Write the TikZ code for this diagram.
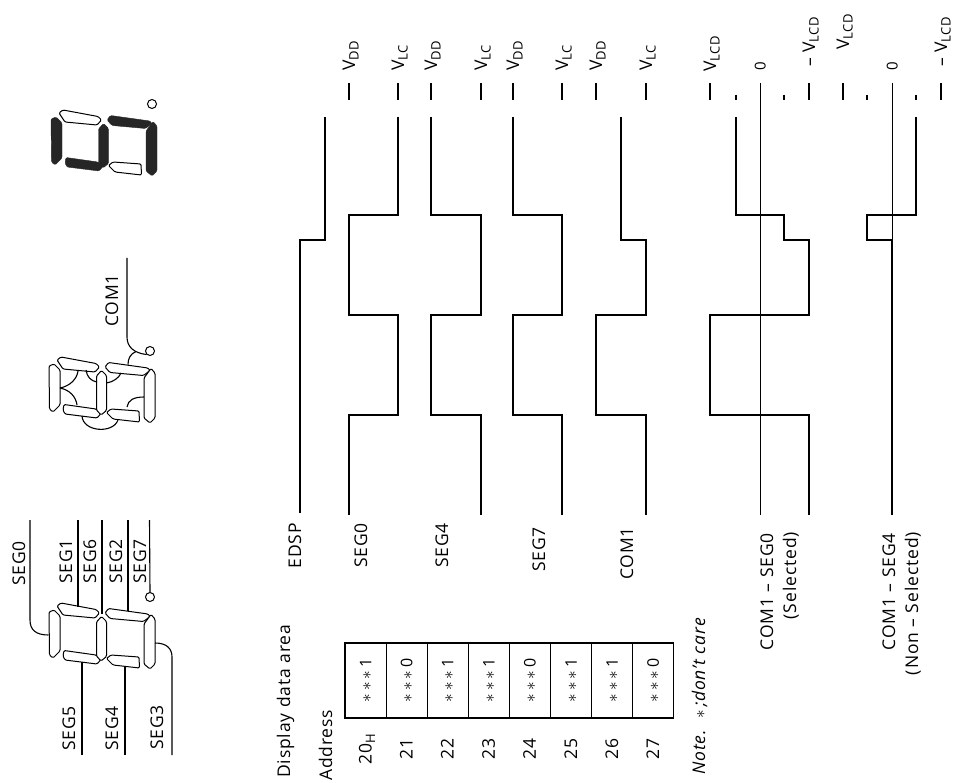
\documentclass[tikz,border=0pt]{standalone}
\usepackage{fontspec}
\setmainfont{Open Sans}[LetterSpace=5]
\newcommand{\lblfont}{\fontsize{17.5}{21}\selectfont}
\newcommand{\starfont}{\fontsize{16}{19}\selectfont}
\newcommand{\zerofont}{\fontsize{15}{17}\selectfont}
\newcommand{\lowsub}[1]{\raisebox{-3.5pt}{\fontsize{13}{15}\selectfont #1}}

% one rotated 8-segment digit (SEG0..SEG6 styles, name of the dot)
\newcommand{\segdigit}[8]{%
  \draw[#1] (49,612) -- (54,610) -- (60,616) -- (60,651) -- (53,658) -- (49.5,655) -- cycle;
  \draw[#2] (57,606) -- (61,603) -- (96,609.5) -- (99.5,613) -- (95,618) -- (63,615) -- cycle;
  \draw[#3] (105,613) -- (108.5,608.5) -- (148,614) -- (150,616.5) -- (143.5,621.5) -- (110,618.5) -- cycle;
  \draw[#4] (151,614.5) -- (155,619) -- (155,664) -- (150,669) -- (144,664) -- (144,624) -- cycle;
  \draw[#5] (106.5,658.5) -- (111,655) -- (139,657) -- (139.5,668) -- (113,665) -- cycle;
  \draw[#6] (64,650.5) -- (96,655) -- (101,659.5) -- (97,664) -- (65,660) -- (63,656) -- cycle;
  \draw[#7] (101.5,616.5) -- (106.5,621.5) -- (106.5,656.5) -- (101,661) -- (96.5,656) -- (96.5,622) -- cycle;
  \node[dp] (#8) at (150,597) {};
}

\begin{document}
\begin{tikzpicture}[x=1pt,y=-1pt,
  wave/.style={line width=2.4pt},
  tick/.style={line width=1.4pt},
  axis/.style={line width=0.8pt},
  wire/.style={line width=1.1pt},
  seg/.style={draw,line width=1pt,rounded corners=1.2pt,fill=white},
  segon/.style={draw=black!85,fill=black!85,rounded corners=1.2pt},
  dp/.style={circle,draw,line width=1pt,minimum size=9pt,inner sep=0pt},
  lbl/.style={font=\lblfont,rotate=90,inner sep=0pt},
  cell/.style={draw,line width=1.1pt,rotate=90,minimum width=75pt,minimum height=41.1pt,inner sep=0pt,font=\starfont}]
\useasboundingbox (0,0) rectangle (963,783);

% digits
\begin{scope}[shift={(2,-493)}]
  \segdigit{segon}{seg}{segon}{segon}{seg}{segon}{segon}{dpsel}
\end{scope}
\begin{scope}[shift={(0,-246)}]
  \segdigit{seg}{seg}{seg}{seg}{seg}{seg}{seg}{dpcom}
\end{scope}
\segdigit{seg}{seg}{seg}{seg}{seg}{seg}{seg}{dpseg}

% common electrode pattern
\draw[wire] (60,388) .. controls (70,386) and (77,379) .. (78,371);
\draw[wire] (60,388) .. controls (70,390) and (76,397) .. (77,405);
\draw[wire] (86,370) .. controls (87,377) and (91,381) .. (97,382);
\draw[wire] (106.5,383) .. controls (113,382) and (119,378) .. (121,373);
\draw[wire] (127,407) .. controls (128,400) and (134,397) .. (144,397);
\draw[wire] (82,416) .. controls (83,432) and (113,434) .. (118,420);
\node[lbl,anchor=base west] (lcom) at (118,327) {COM1};
\draw[wire] (127,258) -- (127,337) .. controls (127,347) and (134,353) .. (dpcom.south west);
\draw[wire] (136,351.5) .. controls (130,354) and (128,359) .. (128,364.5);

% segment lines
\node[lbl,anchor=base west] (ls0) at (25,586) {SEG0};
\node[lbl,anchor=base west] (ls1) at (72,584) {SEG1};
\node[lbl,anchor=base west] (ls6) at (96,584) {SEG6};
\node[lbl,anchor=base west] (ls2) at (122,584) {SEG2};
\node[lbl,anchor=base west] (ls7) at (146,584) {SEG7};
\node[lbl,anchor=base west] (ls5) at (75,751) {SEG5};
\node[lbl,anchor=base west] (ls4) at (118,751) {SEG4};
\node[lbl,anchor=base west] (ls3) at (163,750) {SEG3};
\draw[wire] (30,520) -- (30,620) .. controls (30,630) and (36,635) .. (48.5,635);
\draw[wire] (78,520) -- (78,607);
\draw[wire] (102,520) -- (102,614);
\draw[wire] (128,520) -- (128,611);
\draw[wire] (149.5,520) -- (dpseg.north);
\draw[wire] (82,662) -- (82,755);
\draw[wire] (125,666.5) -- (125,755);
\draw[wire] (172,755) -- (172,657) .. controls (172,648) and (166,643) .. (155,643);

% level ticks
\foreach \x in {349,398,431,481,513,562,596,646,710,809,843,941}
  \draw[tick] (\x,83) -- (\x,100);
\foreach \x in {736,784,867,916}
  \draw[tick] (\x,95) -- (\x,100);
\foreach \x/\t in {349/DD,398/LC,431/DD,481/LC,513/DD,562/LC,596/DD,646/LC}
  \node[lbl,anchor=base west] at (\x+6,71) {V\lowsub{\t}};
\node[lbl,anchor=base west] (vp1) at (716,72) {V\lowsub{LCD}};
\node[lbl,anchor=base west,font=\zerofont] (z1) at (765.5,71) {0};
\node[lbl,anchor=base west] (vm1) at (815,67) {– V\lowsub{LCD}};
\node[lbl,anchor=base west] (vp2) at (849,50) {V\lowsub{LCD}};
\node[lbl,anchor=base west,font=\zerofont] (z2) at (897.5,71) {0};
\node[lbl,anchor=base west] (vm2) at (947,67) {– V\lowsub{LCD}};

% waveforms
\draw[wave] (300,513) -- (300,240) -- (325,240) -- (325,117);
\draw[wave] (398,117) -- (398,215) -- (349,215) -- (349,315) -- (398,315) -- (398,415) -- (349,415) -- (349,515);
\draw[wave] (431,117) -- (431,215) -- (481,215) -- (481,315) -- (431,315) -- (431,415) -- (481,415) -- (481,515);
\draw[wave] (513,117) -- (513,215) -- (562,215) -- (562,315) -- (513,315) -- (513,415) -- (562,415) -- (562,515);
\draw[wave] (621,117) -- (621,240) -- (646,240) -- (646,315) -- (596,315) -- (596,415) -- (646,415) -- (646,515);
\draw[axis] (760,83) -- (760,515);
\draw[axis] (892,83) -- (892,240);
\draw[wave] (736,117) -- (736,215) -- (784,215) -- (784,240) -- (809,240) -- (809,315) -- (710,315) -- (710,415) -- (809,415) -- (809,515);
\draw[wave] (916,117) -- (916,215) -- (867,215) -- (867,240) -- (892,240) -- (892,515);

% waveform names
\node[lbl,anchor=base east] (nedsp) at (301,523) {EDSP};
\node[lbl,anchor=base east] (nseg0) at (367,523) {SEG0};
\node[lbl,anchor=base east] (nseg4) at (448,523) {SEG4};
\node[lbl,anchor=base east] (nseg7) at (545,527) {SEG7};
\node[lbl,anchor=base east] (ncom1) at (633,527) {COM1};
\node[lbl,anchor=base east] (nsel) at (773,533) {COM1 – SEG0};
\node[lbl,anchor=base east] (nsel2) at (796,532) {(Selected)};
\node[lbl,anchor=base east] (nnon) at (895,533) {COM1 – SEG4};
\node[lbl,anchor=base east] (nnon2) at (918,532) {(Non – Selected)};

% display data area
\node[lbl,anchor=base west] (darea) at (290,778) {Display data area};
\node[lbl,anchor=base west] (daddr) at (332,781) {Address};
\foreach \i/\d in {0/1,1/0,2/1,3/1,4/0,5/1,6/1,7/0} {
  \node[cell] (c\i) at (365.55+41.1*\i,680.5) {$*$\hspace{3pt}$*$\hspace{3pt}$*$\hspace{3pt}\d};
  \pgfmathtruncatemacro{\a}{20+\i}
  \node[lbl,anchor=base] (a\i) at (371.5+41.1*\i,749) {\ifnum\i=0 20\lowsub{H}\else\a\fi};
}
\node[lbl,anchor=base west] (note) at (705,775) {\textit{Note.}\ \ $*$\,\textit{;don’t care}};
\end{tikzpicture}
\end{document}
